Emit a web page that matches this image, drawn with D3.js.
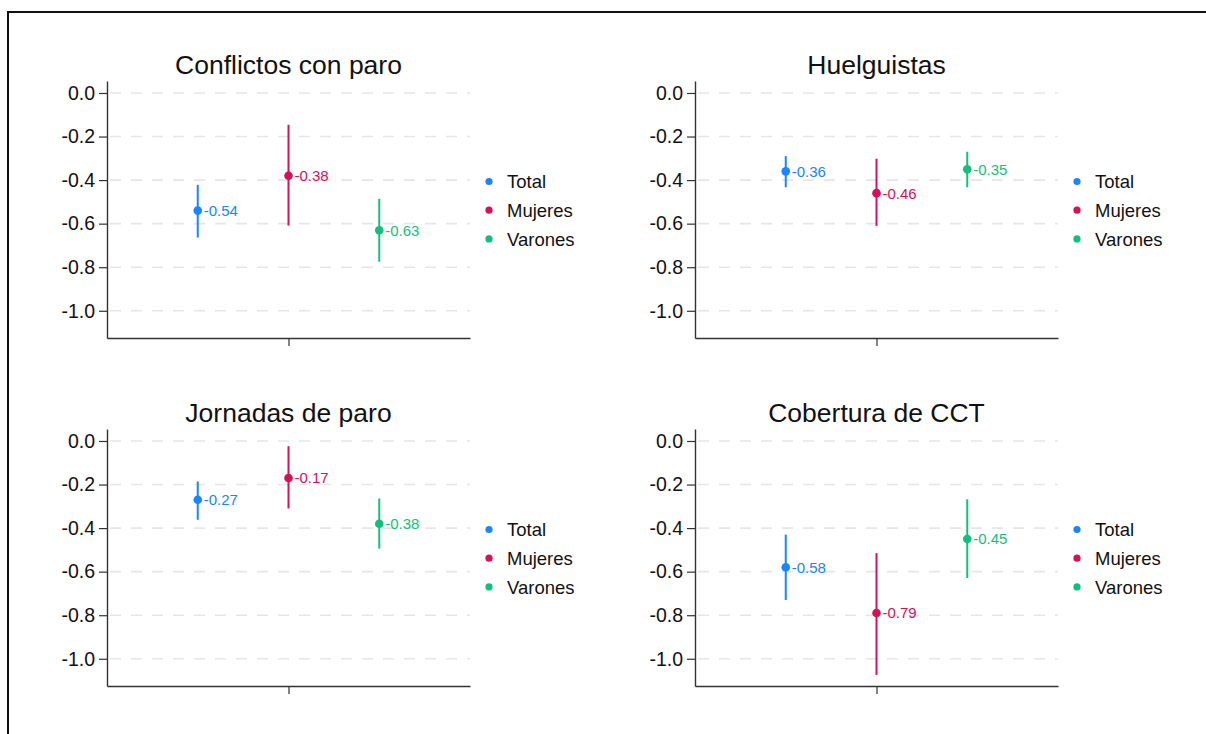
<!DOCTYPE html>
<html>
<head>
<meta charset="utf-8">
<script src="https://cdn.jsdelivr.net/npm/d3@7"></script>
<style>
  html, body { margin: 0; padding: 0; background: #fff; }
  svg { display: block; font-family: "Liberation Sans", Arial, sans-serif; }
</style>
</head>
<body>
<svg id="chart" width="1206" height="734"></svg>
<script>
// Panel titles
const panels = ["Conflictos con paro", "Huelguistas", "Jornadas de paro", "Cobertura de CCT"];
// Groups shown in every panel
const groups = ["Total", "Mujeres", "Varones"];
const groupColors = ["#1a85ff", "#d41159", "#13bf7e"];
// Point estimates per panel (Total, Mujeres, Varones)
const estimates = [
  [-0.54, -0.38, -0.63],
  [-0.36, -0.46, -0.35],
  [-0.27, -0.17, -0.38],
  [-0.58, -0.79, -0.45]
];
// Lower and upper confidence bounds
const lower = [
  [-0.664, -0.609, -0.775],
  [-0.433, -0.610, -0.433],
  [-0.362, -0.310, -0.494],
  [-0.730, -1.074, -0.629]
];
const upper = [
  [-0.422, -0.146, -0.486],
  [-0.290, -0.302, -0.270],
  [-0.186, -0.024, -0.264],
  [-0.430, -0.515, -0.268]
];
const yTicks = [0.0, -0.2, -0.4, -0.6, -0.8, -1.0];

const svg = d3.select("#chart");

// outer frame
svg.append("rect")
  .attr("x", 8).attr("y", 12)
  .attr("width", 1220).attr("height", 760)
  .attr("fill", "none").attr("stroke", "#111").attr("stroke-width", 2);

const origins = [[107, 81], [695, 81], [107, 429], [695, 429]];
const plotW = 363, plotH = 257;

panels.forEach((title, p) => {
  const [ox, oy] = origins[p];
  const g = svg.append("g").attr("transform", `translate(${ox},${oy})`);

  const x = d3.scaleLinear().domain([-2, 2]).range([0, plotW]);
  const y = d3.scaleLinear().domain([-1.125, 0.055]).range([plotH, 0]);

  // dashed horizontal grid
  g.append("g").selectAll("line").data(yTicks).join("line")
    .attr("x1", 3).attr("x2", plotW)
    .attr("y1", d => y(d)).attr("y2", d => y(d))
    .attr("stroke", "#e6e6e6").attr("stroke-width", 1.6)
    .attr("stroke-dasharray", "11,10");

  // y axis
  const yAxis = g.append("g")
    .call(d3.axisLeft(y).tickValues(yTicks).tickFormat(d3.format(".1f")).tickSize(8).tickSizeOuter(0));
  yAxis.select(".domain").attr("stroke", "#333").attr("stroke-width", 1.4);
  yAxis.selectAll(".tick line").attr("stroke", "#333").attr("stroke-width", 1.2);
  yAxis.selectAll(".tick text")
    .attr("x", -12)
    .attr("font-size", 19.5).attr("fill", "#111")
    .attr("font-family", "Liberation Sans, Arial, sans-serif")
    .text(d => d3.format(".1f")(d).replace("−", "-"));

  // x axis with one central tick
  const xAxis = g.append("g").attr("transform", `translate(0,${plotH})`)
    .call(d3.axisBottom(x).tickValues([0]).tickFormat("").tickSize(8).tickSizeOuter(0));
  xAxis.select(".domain").attr("stroke", "#333").attr("stroke-width", 1.4);
  xAxis.selectAll(".tick line").attr("stroke", "#333").attr("stroke-width", 1.2);

  // title
  g.append("text")
    .attr("x", x(0)).attr("y", -7.5)
    .attr("text-anchor", "middle")
    .attr("font-size", 26.5).attr("fill", "#111")
    .text(title);

  const rows = groups.map((name, i) => ({
    name, i,
    est: estimates[p][i], lo: lower[p][i], hi: upper[p][i]
  }));
  const pos = i => x(i - 1);

  // confidence intervals
  g.append("g").selectAll("line").data(rows).join("line")
    .attr("x1", d => pos(d.i)).attr("x2", d => pos(d.i))
    .attr("y1", d => y(d.lo)).attr("y2", d => y(d.hi))
    .attr("stroke", d => groupColors[d.i]).attr("stroke-width", 2);

  // point estimates
  g.append("g").selectAll("circle").data(rows).join("circle")
    .attr("cx", d => pos(d.i)).attr("cy", d => y(d.est))
    .attr("r", 4.3)
    .attr("fill", d => groupColors[d.i]);

  // value labels
  g.append("g").selectAll("text").data(rows).join("text")
    .attr("x", d => pos(d.i) + 6)
    .attr("y", d => y(d.est))
    .attr("dy", "0.36em")
    .attr("font-size", 15)
    .attr("fill", d => groupColors[d.i])
    .text(d => d3.format(".2f")(d.est).replace("−", "-"));

  // legend
  const lg = g.append("g").attr("transform", `translate(${plotW + 19},${100.5})`);
  groups.forEach((name, i) => {
    lg.append("circle")
      .attr("cx", 0).attr("cy", i * 28.7)
      .attr("r", 3.6).attr("fill", groupColors[i]);
    lg.append("text")
      .attr("x", 18).attr("y", i * 28.7)
      .attr("dy", "0.36em")
      .attr("font-size", 18.5).attr("fill", "#111")
      .text(name);
  });
});
</script>
</body>
</html>
